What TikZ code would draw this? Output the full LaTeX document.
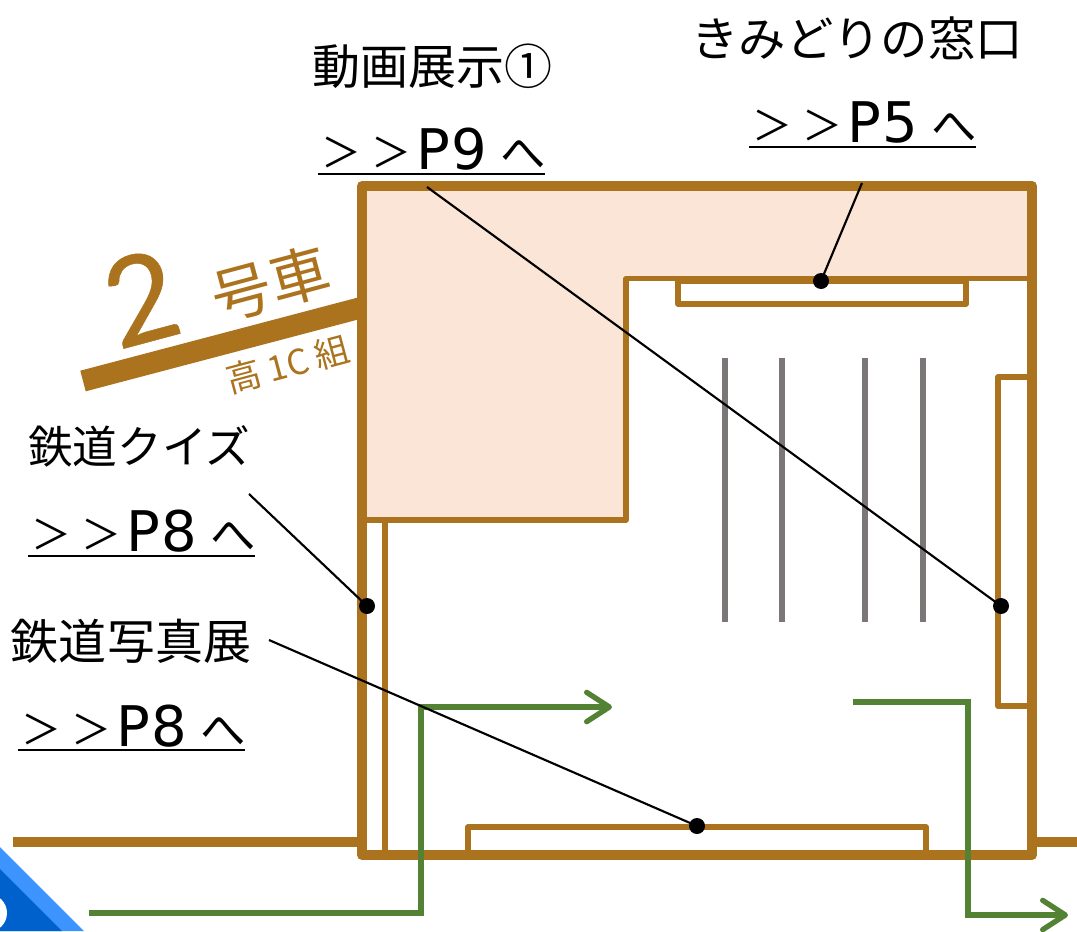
\documentclass[tikz,border=0pt]{standalone}
\usepackage{fontspec}
\setmainfont{Noto Sans CJK JP}
\newfontfamily\lat[FakeBold=0.4]{Lato}
\newfontfamily\wide[LetterSpace=3]{DejaVu Sans}
\definecolor{brn}{HTML}{AB731E}
\definecolor{grn}{HTML}{548235}
\definecolor{pch}{HTML}{FBE5D6}
\definecolor{gry}{HTML}{7B7777}
\definecolor{lblu}{HTML}{3D94FF}
\definecolor{dblu}{HTML}{0060CC}
\usetikzlibrary{arrows.meta}
% px = 0.75pt: a page reference such as >>P9 he, with the reference's wide spacing
\newcommand{\gtgt}{{\fontsize{30}{30}\selectfont\raisebox{1pt}{\makebox[37pt][c]{＞}\makebox[37pt][c]{＞}}}}
\newcommand{\plink}[1]{\kern-4.5pt\gtgt\kern0.25pt{\wide\fontsize{42}{42}\selectfont #1}\kern10.25pt{\fontsize{34}{34}\selectfont へ}\kern-1.75pt}
\begin{document}
\begin{tikzpicture}[x=0.75pt,y=-0.75pt,
  wall/.style={draw=brn,line width=7.5pt,line join=round},
  thinwall/.style={draw=brn,line width=4pt,line join=round},
  panelface/.style={draw=brn,line width=6pt},
  ground/.style={draw=brn,line width=6.8pt},
  seat/.style={draw=gry,line width=4.5pt},
  route/.style={draw=grn,line width=4pt,line join=miter},
  routearrow/.style={-{Straight Barb[length=17pt,width=22pt,line width=4pt,round]}},
  lead/.style={draw=black,line width=1.6pt},
  dot/.style={circle,fill=black,inner sep=0pt,minimum size=12pt},
  jp/.style={inner sep=0pt},
  lnk/.style={inner sep=0pt,anchor=base},
  ul/.style={draw=black,line width=1.6pt},
  tag/.style={text=brn,inner sep=0pt,rotate=15}]
\useasboundingbox (0,0) rectangle (1077,931);
% blue corner
\fill[lblu] (0,847) -- (84,931) -- (0,931) -- cycle;
\fill[dblu] (0,869) -- (62,931) -- (0,931) -- cycle;
\begin{scope}
\clip (0,869) rectangle (60,931);
\fill[white] (-12,913) circle[radius=19];
\end{scope}
% floor
\fill[pch] (362,186) -- (1032,186) -- (1032,278) -- (626,278) -- (626,520) -- (362,520) -- cycle;
\draw[ground] (13,842) -- (358,842);
\draw[ground] (1032,842) -- (1077,842);
\draw[thinwall] (1032,278.5) -- (626,278.5) -- (626,520) -- (362,520);
\draw[thinwall] (385,520) -- (385,855);
\draw[thinwall] (678,281) -- (678,304) -- (966,304) -- (966,281);
\draw[panelface] (676,280) -- (968,280);
\draw[thinwall] (1030,377) -- (998,377) -- (998,706) -- (1030,706);
\draw[thinwall] (468,855) -- (468,827) -- (926,827) -- (926,855);
\foreach \x in {725,782,865,923} \draw[seat] (\x,358) -- (\x,622);
\draw[wall] (362,186) rectangle (1032,855);
% class band
\draw[draw=brn,line width=16pt] (83,381) -- (360,308);
\node[tag,font=\fontsize{92}{92}\selectfont\lat] (two) at (141,298) {2};
\node[tag,font=\fontsize{45}{45}\selectfont] (go) at (271,284) {号車};
\node[tag,font=\fontsize{26}{26}\selectfont] (cls) at (288,364) {高 1C 組};
% routes
\coordinate (r1a) at (89,913);
\coordinate (r1b) at (421,913);
\coordinate (r1c) at (421,707);
\coordinate (r1d) at (612,707);
\coordinate (r2a) at (853,702);
\coordinate (r2b) at (968,702);
\coordinate (r2c) at (968,915);
\coordinate (r2d) at (1068,915);
\draw[route,routearrow] (r1a) -- (r1b) -- (r1c) -- (r1d);
\draw[route,routearrow] (r2a) -- (r2b) -- (r2c) -- (r2d);
% labels
\node[jp,font=\fontsize{36}{36}\selectfont] (t1) at (432,66) {動画展示①};
\node[lnk] (l1) at (433.5,169) {\plink{P9}};
\node[jp,font=\fontsize{35.5}{36}\selectfont] (t2) at (857,38) {きみどりの窓口};
\node[lnk] (l2) at (864.5,142) {\plink{P5}};
\node[jp,font=\fontsize{33.5}{36}\selectfont] (t3) at (139,446) {鉄道クイズ};
\node[lnk] (l3) at (143.5,551) {\plink{P8}};
\node[jp,font=\fontsize{36}{36}\selectfont] (t4) at (131,641) {鉄道写真展};
\node[lnk] (l4) at (133.5,746) {\plink{P8}};
\coordinate (u1a) at (318,174); \coordinate (u1b) at (545,174);
\coordinate (u2a) at (749,147); \coordinate (u2b) at (976,147);
\coordinate (u3a) at (28,556); \coordinate (u3b) at (255,556);
\coordinate (u4a) at (18,750); \coordinate (u4b) at (245,750);
\draw[ul] (u1a) -- (u1b);
\draw[ul] (u2a) -- (u2b);
\draw[ul] (u3a) -- (u3b);
\draw[ul] (u4a) -- (u4b);
% leaders
\node[dot] (d1) at (1001,606) {};
\node[dot] (d2) at (821,281) {};
\node[dot] (d3) at (367,606) {};
\node[dot] (d4) at (697,826) {};
\coordinate (s1) at (427,187);
\coordinate (s2) at (862,183);
\coordinate (s3) at (249,494);
\coordinate (s4) at (269,640);
\draw[lead] (s1) -- (d1.center);
\draw[lead] (s2) -- (d2.center);
\draw[lead] (s3) -- (d3.center);
\draw[lead] (s4) -- (d4.center);
\end{tikzpicture}
\end{document}
